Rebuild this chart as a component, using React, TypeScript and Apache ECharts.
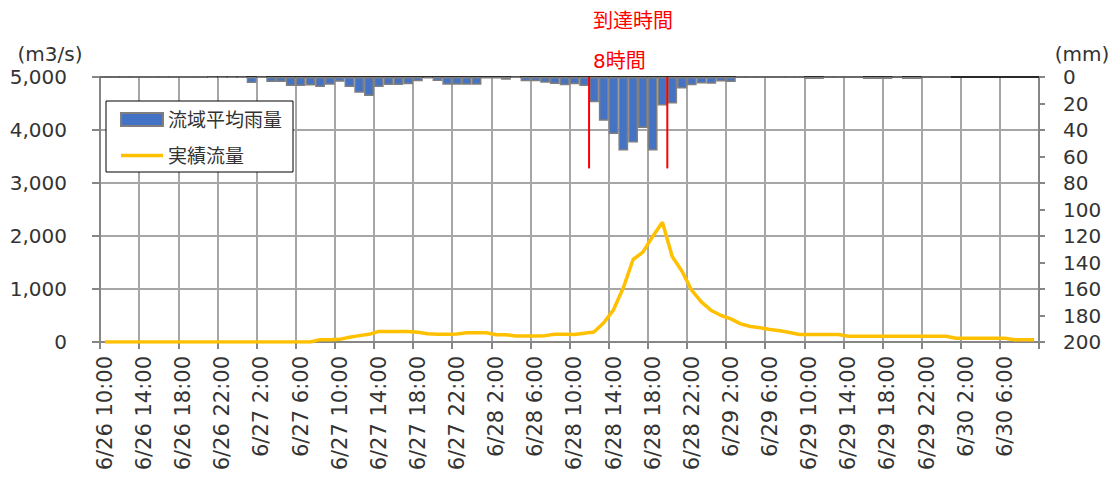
import React, { useEffect, useRef } from "react";
import * as echarts from "echarts";

const categories = [
  "6/26 10:00", "6/26 11:00", "6/26 12:00", "6/26 13:00", "6/26 14:00", "6/26 15:00", "6/26 16:00",
  "6/26 17:00", "6/26 18:00", "6/26 19:00", "6/26 20:00", "6/26 21:00", "6/26 22:00", "6/26 23:00",
  "6/27 0:00", "6/27 1:00", "6/27 2:00", "6/27 3:00", "6/27 4:00", "6/27 5:00", "6/27 6:00", "6/27 7:00",
  "6/27 8:00", "6/27 9:00", "6/27 10:00", "6/27 11:00", "6/27 12:00", "6/27 13:00", "6/27 14:00",
  "6/27 15:00", "6/27 16:00", "6/27 17:00", "6/27 18:00", "6/27 19:00", "6/27 20:00", "6/27 21:00",
  "6/27 22:00", "6/27 23:00",
  "6/28 0:00", "6/28 1:00", "6/28 2:00", "6/28 3:00", "6/28 4:00", "6/28 5:00", "6/28 6:00", "6/28 7:00",
  "6/28 8:00", "6/28 9:00", "6/28 10:00", "6/28 11:00", "6/28 12:00", "6/28 13:00", "6/28 14:00",
  "6/28 15:00", "6/28 16:00", "6/28 17:00", "6/28 18:00", "6/28 19:00", "6/28 20:00", "6/28 21:00",
  "6/28 22:00", "6/28 23:00",
  "6/29 0:00", "6/29 1:00", "6/29 2:00", "6/29 3:00", "6/29 4:00", "6/29 5:00", "6/29 6:00", "6/29 7:00",
  "6/29 8:00", "6/29 9:00", "6/29 10:00", "6/29 11:00", "6/29 12:00", "6/29 13:00", "6/29 14:00",
  "6/29 15:00", "6/29 16:00", "6/29 17:00", "6/29 18:00", "6/29 19:00", "6/29 20:00", "6/29 21:00",
  "6/29 22:00", "6/29 23:00",
  "6/30 0:00", "6/30 1:00", "6/30 2:00", "6/30 3:00", "6/30 4:00", "6/30 5:00", "6/30 6:00", "6/30 7:00",
  "6/30 8:00", "6/30 9:00",
];

// 流域平均雨量 (mm)
const rainfall: (number | null)[] = [
  0, 0, 0, 0, 0, 0, 0, 0, 0, 0, 0, 0.5, 0.5, 0.5,
  0.5, 4.5, 0.3, 3.8, 3.8, 6.8, 6.8, 6.5, 7.5, 5.8, 3.5, 7.5, 11.8, 14.3,
  7.5, 6, 6, 5.5, 3.3, 1, 3, 5.8, 5.8, 5.8,
  5.8, 1.2, 1.2, 2, 0.5, 3.3, 3.3, 4.3, 5.3, 6.3, 5.5, 6.8, 19, 33,
  43, 55.5, 49.5, 38.5, 55.5, 21.5, 20, 8.7, 6.2, 4.9, 5, 3.4,
  3.8, 0, 0, 0, 0, 0, 0, 0, 1.5, 1.5, 0, 0, 0, 0,
  1.5, 1.5, 1.5, 0, 1.5, 1.5, 0, 0,
  0, null, null, null, null, null, null, null, null, null,
];

// 実績流量 (m3/s)
const discharge = [
  0, 0, 0, 0, 0, 0, 0, 0, 0, 0, 0, 0, 0, 0,
  0, 0, 0, 0, 0, 0, 0, 0, 44, 44, 50, 88, 120, 145,
  200, 200, 200, 200, 182, 157, 145, 145, 150, 176,
  176, 176, 138, 138, 113, 113, 113, 120, 145, 145, 142, 167, 190, 362,
  607, 1022, 1557, 1695, 1991, 2261, 1613, 1336, 972, 752, 594, 500,
  437, 343, 292, 267, 236, 211, 179, 142, 142, 142, 142, 142, 110, 110,
  110, 110, 110, 110, 110, 110, 110, 110,
  110, 72, 72, 72, 72, 72, 72, 41, 41, 41,
];

const arrivalStart = "6/28 12:00";
const arrivalEnd = "6/28 20:00";
const arrivalLineDepth = 69; // mm, on the rainfall axis
const arrivalTitle = "到達時間";
const arrivalLabel = "8時間";

const flowMax = 5000;
const flowInterval = 1000;
const rainMax = 200;
const rainInterval = 20;

export default function App() {
  const ref = useRef<HTMLDivElement>(null);

  useEffect(() => {
    if (!ref.current) return;
    const chart = echarts.init(ref.current, null, { renderer: "svg" });
    const font = '"DejaVu Sans", "Noto Sans CJK JP", sans-serif';
    const textColor = "#333333";
    const gridColor = "#A6A6A6";
    const axisColor = "#868686";
    const n = categories.length;
    const i0 = categories.indexOf(arrivalStart);
    const i1 = categories.indexOf(arrivalEnd);

    chart.setOption({
      animation: false,
      textStyle: { fontFamily: font, color: textColor },
      grid: { left: 100, right: 73, top: 77, height: 265, containLabel: false },
      legend: {
        orient: "vertical",
        left: 106,
        top: 101,
        backgroundColor: "#ffffff",
        borderColor: "#000000",
        borderWidth: 1,
        borderRadius: 0,
        padding: [9, 11, 7, 14],
        itemWidth: 42,
        itemHeight: 13,
        itemGap: 17,
        textStyle: { fontSize: 19, color: textColor, fontFamily: font },
        data: [
          { name: "流域平均雨量", icon: "rect" },
          { name: "実績流量", icon: "path://M0,0L42,0L42,3.5L0,3.5Z" },
        ],
      },
      graphic: [
        {
          type: "text",
          x: 50,
          y: 54,
          style: { text: "(m3/s)", font: `20px ${font}`, fill: textColor, align: "center", verticalAlign: "middle" },
        },
        {
          type: "text",
          x: 1082,
          y: 54,
          style: { text: "(mm)", font: `20px ${font}`, fill: textColor, align: "center", verticalAlign: "middle" },
        },
        {
          type: "text",
          x: 593,
          y: 21,
          style: { text: arrivalTitle, font: `20px ${font}`, fill: "#FF0000", align: "left", verticalAlign: "middle" },
        },
        {
          type: "text",
          x: 593,
          y: 61,
          style: { text: arrivalLabel, font: `20px ${font}`, fill: "#FF0000", align: "left", verticalAlign: "middle" },
        },
      ],
      xAxis: [
        {
          type: "category",
          data: categories,
          boundaryGap: true,
          position: "bottom",
          axisLine: { show: true, lineStyle: { color: axisColor, width: 2 } },
          axisTick: { show: true, interval: 3, length: 7, lineStyle: { color: axisColor, width: 2 } },
          axisLabel: { interval: 3, rotate: 90, fontSize: 21, color: textColor, margin: 14, fontFamily: font },
          splitLine: { show: true, interval: 3, lineStyle: { color: gridColor, width: 2 } },
        },
        {
          type: "category",
          data: categories,
          boundaryGap: true,
          position: "top",
          axisLine: { show: true, lineStyle: { color: "#000000", width: 1.5 } },
          axisTick: { show: false },
          axisLabel: { show: false },
          splitLine: { show: false },
        },
        { type: "value", min: 0, max: n, show: false },
      ],
      yAxis: [
        {
          type: "value",
          min: 0,
          max: flowMax,
          interval: flowInterval,
          axisLine: { show: true, lineStyle: { color: axisColor, width: 2 } },
          axisTick: { show: true, length: 8, lineStyle: { color: axisColor, width: 2 } },
          axisLabel: {
            fontSize: 20,
            color: textColor,
            margin: 33,
            fontFamily: font,
            formatter: (v: number) => v.toLocaleString("en-US"),
          },
          splitLine: { show: true, lineStyle: { color: gridColor, width: 2 } },
        },
        {
          type: "value",
          min: 0,
          max: rainMax,
          interval: rainInterval,
          inverse: true,
          position: "right",
          axisLine: { show: true, lineStyle: { color: axisColor, width: 2 } },
          axisTick: { show: true, length: 6, lineStyle: { color: axisColor, width: 2 } },
          axisLabel: { fontSize: 20, color: textColor, margin: 24, fontFamily: font },
          splitLine: { show: false },
        },
      ],
      series: [
        {
          name: "流域平均雨量",
          type: "bar",
          xAxisIndex: 1,
          yAxisIndex: 1,
          data: rainfall,
          barCategoryGap: "0%",
          itemStyle: { color: "#4472C4", borderColor: "#7F7F7F", borderWidth: 1.5 },
          z: 3,
        },
        {
          name: "実績流量",
          type: "line",
          xAxisIndex: 0,
          yAxisIndex: 0,
          data: discharge,
          symbol: "none",
          lineStyle: { color: "#FFC000", width: 3.5 },
          itemStyle: { color: "#FFC000" },
          z: 4,
        },
        {
          name: "arrivalStart",
          type: "line",
          xAxisIndex: 2,
          yAxisIndex: 1,
          data: [[i0, 0], [i0, arrivalLineDepth]],
          symbol: "none",
          lineStyle: { color: "#FF0000", width: 2 },
          z: 5,
        },
        {
          name: "arrivalEnd",
          type: "line",
          xAxisIndex: 2,
          yAxisIndex: 1,
          data: [[i1, 0], [i1, arrivalLineDepth]],
          symbol: "none",
          lineStyle: { color: "#FF0000", width: 2 },
          z: 5,
        },
      ],
    });

    return () => chart.dispose();
  }, []);

  return (
    <div
      ref={ref}
      style={{ position: "fixed", left: 0, top: 0, width: 1112, height: 482, background: "#ffffff" }}
    />
  );
}
